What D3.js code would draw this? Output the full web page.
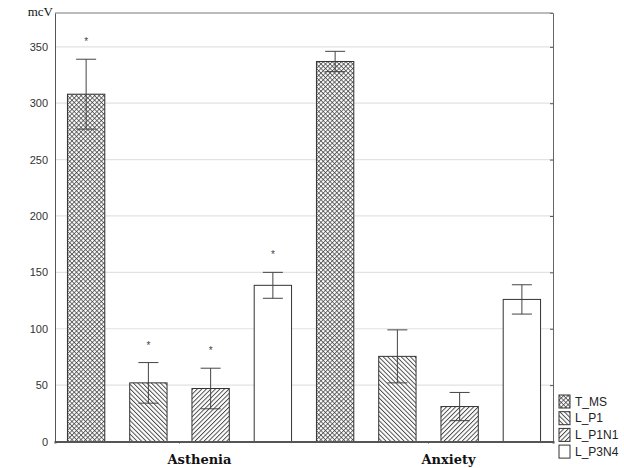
<!DOCTYPE html>
<html>
<head>
<meta charset="utf-8">
<script src="https://cdn.jsdelivr.net/npm/d3@7"></script>
<style>
  body { margin: 0; background: #fff; }
  #chart { width: 624px; height: 468px; }
</style>
</head>
<body>
<div id="chart"></div>
<script>
// Data
const groups = ["Asthenia", "Anxiety"];
const series = ["T_MS", "L_P1", "L_P1N1", "L_P3N4"];
const tmsMean = [308, 337];
const tmsErr = [31, 9];
const p1Mean = [52, 75.5];
const p1Err = [18, 23.5];
const p1n1Mean = [47, 31];
const p1n1Err = [18, 12.5];
const p3n4Mean = [138.5, 126];
const p3n4Err = [11.5, 13];
const starredGroups = ["Asthenia"];
const yTicks = [0, 50, 100, 150, 200, 250, 300, 350];

document.addEventListener("DOMContentLoaded", () => {
  const width = 624;
  const height = 468;
  const margin = { top: 13, right: 71, bottom: 26.5, left: 55 };
  const sans = "'Liberation Sans', Arial, sans-serif";

  const means = [tmsMean, p1Mean, p1n1Mean, p3n4Mean];
  const errs = [tmsErr, p1Err, p1n1Err, p3n4Err];
  const rows = [];
  groups.forEach((g, gi) => {
    series.forEach((s, si) => {
      rows.push({ group: g, series: s, mean: means[si][gi], err: errs[si][gi] });
    });
  });

  const svg = d3
    .select("#chart")
    .append("svg")
    .attr("width", width)
    .attr("height", height);

  // Patterns
  const defs = svg.append("defs");
  const hatch = (id, angle, cross) => {
    const p = defs
      .append("pattern")
      .attr("id", id)
      .attr("patternUnits", "userSpaceOnUse")
      .attr("width", 3.2)
      .attr("height", 3.2)
      .attr("patternTransform", `rotate(${angle})`);
    p.append("rect").attr("width", 3.2).attr("height", 3.2).attr("fill", "#fff");
    p.append("line")
      .attr("x1", 0.5).attr("y1", 0).attr("x2", 0.5).attr("y2", 3.2)
      .attr("stroke", "#333").attr("stroke-width", cross ? 0.7 : 0.85);
    if (cross) {
      p.append("line")
        .attr("x1", 0).attr("y1", 0.5).attr("x2", 3.2).attr("y2", 0.5)
        .attr("stroke", "#333").attr("stroke-width", 0.7);
    }
  };
  hatch("pat-tms", 45, true);
  hatch("pat-p1", -45, false);
  hatch("pat-p1n1", 45, false);
  const fills = {
    T_MS: "url(#pat-tms)",
    L_P1: "url(#pat-p1)",
    L_P1N1: "url(#pat-p1n1)",
    L_P3N4: "#fff",
  };

  // Scales
  const x0 = d3
    .scaleBand()
    .domain(groups)
    .range([margin.left, width - margin.right]);
  const x1 = d3
    .scaleBand()
    .domain(series)
    .range([0, x0.bandwidth()])
    .paddingInner(0.4)
    .paddingOuter(0.2);
  const y = d3
    .scaleLinear()
    .domain([0, 380])
    .range([height - margin.bottom, margin.top]);

  // Grid lines
  svg
    .append("g")
    .selectAll("line")
    .data(yTicks.filter((t) => t > 0))
    .enter()
    .append("line")
    .attr("x1", margin.left)
    .attr("x2", width - margin.right)
    .attr("y1", (d) => y(d))
    .attr("y2", (d) => y(d))
    .attr("stroke", "#e2e2e2")
    .attr("stroke-width", 1.2);

  // Left axis (labels only)
  const yAxis = d3.axisLeft(y).tickValues(yTicks).tickSize(0).tickPadding(7);
  svg
    .append("g")
    .attr("transform", `translate(${margin.left}, 0)`)
    .call(yAxis)
    .call((g) => g.select(".domain").attr("stroke", "#555"))
    .selectAll(".tick text")
    .attr("font-family", sans)
    .attr("font-size", 11)
    .attr("fill", "#333");

  // Right axis ticks
  svg
    .append("g")
    .attr("transform", `translate(${width - margin.right}, 0)`)
    .call(d3.axisLeft(y).tickValues(yTicks).tickSize(3).tickFormat(""))
    .call((g) => g.selectAll(".tick line").attr("stroke", "#555"))
    .call((g) => g.select(".domain").attr("stroke", "#666"));

  // Top frame
  svg
    .append("line")
    .attr("x1", margin.left)
    .attr("x2", width - margin.right)
    .attr("y1", margin.top)
    .attr("y2", margin.top)
    .attr("stroke", "#777");

  // Bars
  const bars = svg
    .append("g")
    .selectAll("g")
    .data(rows)
    .enter()
    .append("g")
    .attr("transform", (d) => `translate(${x0(d.group) + x1(d.series)}, 0)`);

  bars
    .append("rect")
    .attr("x", 0)
    .attr("y", (d) => y(d.mean))
    .attr("width", x1.bandwidth())
    .attr("height", (d) => y(0) - y(d.mean))
    .attr("fill", (d) => fills[d.series])
    .attr("stroke", "#333")
    .attr("stroke-width", 1);

  // Error bars
  const bw = x1.bandwidth();
  const cap = 10;
  bars
    .append("line")
    .attr("x1", bw / 2)
    .attr("x2", bw / 2)
    .attr("y1", (d) => y(d.mean + d.err))
    .attr("y2", (d) => y(d.mean - d.err))
    .attr("stroke", "#444");
  bars
    .append("line")
    .attr("x1", bw / 2 - cap)
    .attr("x2", bw / 2 + cap)
    .attr("y1", (d) => y(d.mean + d.err))
    .attr("y2", (d) => y(d.mean + d.err))
    .attr("stroke", "#444");
  bars
    .append("line")
    .attr("x1", bw / 2 - cap)
    .attr("x2", bw / 2 + cap)
    .attr("y1", (d) => y(d.mean - d.err))
    .attr("y2", (d) => y(d.mean - d.err))
    .attr("stroke", "#444");

  // Asterisks
  bars
    .filter((d) => starredGroups.includes(d.group))
    .append("text")
    .attr("x", bw / 2)
    .attr("y", (d) => y(d.mean + d.err) - 14)
    .attr("text-anchor", "middle")
    .attr("font-family", sans)
    .attr("font-size", 10)
    .attr("fill", "#444")
    .text("*");

  // Bottom axis
  const xAxis = d3.axisBottom(x0).tickSize(2).tickPadding(11);
  svg
    .append("g")
    .attr("transform", `translate(0, ${y(0)})`)
    .call(xAxis)
    .call((g) => g.select(".domain").attr("stroke", "#555").attr("stroke-width", 2))
    .call((g) => g.selectAll(".tick line").attr("stroke", "#555"))
    .selectAll(".tick text")
    .attr("dx", 20)
    .attr("font-family", "'DejaVu Serif', serif")
    .attr("font-weight", "bold")
    .attr("font-size", 13)
    .attr("fill", "#111");

  // Y unit label
  svg
    .append("text")
    .attr("x", margin.left - 2)
    .attr("y", margin.top + 3)
    .attr("text-anchor", "end")
    .attr("font-family", "'Liberation Serif', 'Times New Roman', serif")
    .attr("font-size", 13)
    .attr("fill", "#111")
    .text("mcV");

  // Legend
  const legend = svg
    .append("g")
    .attr("transform", `translate(559, 395)`)
    .selectAll("g")
    .data(series)
    .enter()
    .append("g")
    .attr("transform", (d, i) => `translate(0, ${i * 16.7})`);
  legend
    .append("rect")
    .attr("width", 11)
    .attr("height", 13)
    .attr("fill", (d) => fills[d])
    .attr("stroke", "#333");
  legend
    .append("text")
    .attr("x", 16)
    .attr("y", 10.5)
    .attr("font-family", sans)
    .attr("font-size", 12)
    .attr("fill", "#222")
    .text((d) => d);
});
</script>
</body>
</html>
